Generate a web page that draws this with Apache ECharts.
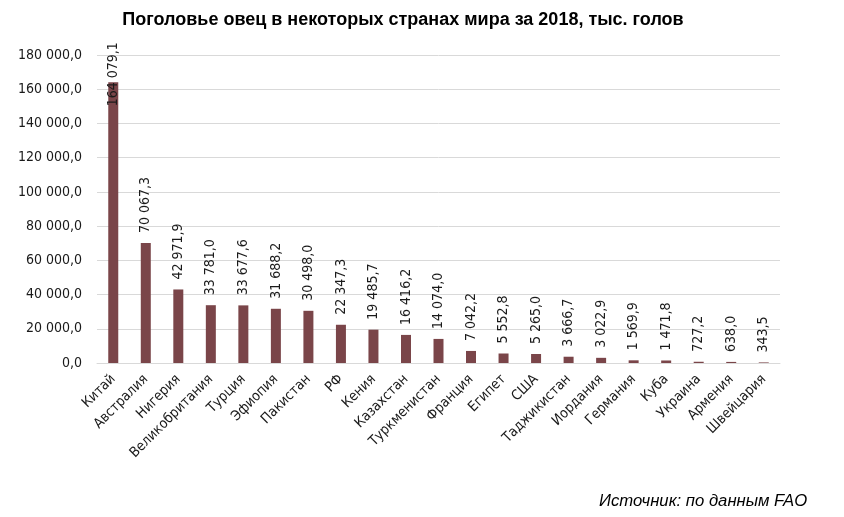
<!DOCTYPE html>
<html>
<head>
<meta charset="utf-8">
<script src="https://cdn.jsdelivr.net/npm/echarts@6/dist/echarts.min.js"></script>
<style>html,body{margin:0;padding:0;background:#fff}#c{width:844px;height:517px}</style>
</head>
<body>
<div id="c"></div>
<script>
const titleText = 'Поголовье овец в некоторых странах мира за 2018, тыс. голов';
const sourceText = 'Источник: по данным FAO';
const countries = ['Китай','Австралия','Нигерия','Великобритания','Турция','Эфиопия','Пакистан','РФ','Кения','Казахстан','Туркменистан','Франция','Египет','США','Таджикистан','Иордания','Германия','Куба','Украина','Армения','Швейцария'];
const sheep = [164079.1,70067.3,42971.9,33781.0,33677.6,31688.2,30498.0,22347.3,19485.7,16416.2,14074.0,7042.2,5552.8,5265.0,3666.7,3022.9,1569.9,1471.8,727.2,638.0,343.5];

function fmt(v){
  const s = v.toFixed(1).split('.');
  return s[0].replace(/\B(?=(\d{3})+(?!\d))/g,' ') + ',' + s[1];
}
const font = 'DejaVu Sans Condensed';
const data = sheep.map((v,i)=>{
  const d = {value:v};
  if(i===0){
    d.label = {position:'insideTop', distance:24};
  }
  return d;
});
const chart = echarts.init(document.getElementById('c'));
chart.setOption({
  animation:false,
  title:[{text:titleText,left:398,textAlign:'center',top:6,textStyle:{fontFamily:'Liberation Sans',fontWeight:'bold',fontSize:18,color:'#000'}},
         {text:sourceText,left:594,top:488,textStyle:{fontFamily:'Liberation Sans',fontStyle:'italic',fontWeight:'normal',fontSize:16.7,color:'#000'}}],
  grid:{left:97,right:64,top:55,bottom:154,containLabel:false},
  xAxis:{type:'category',data:countries,
    axisLine:{lineStyle:{color:'#d9d9d9'}},axisTick:{show:false},
    axisLabel:{rotate:45,interval:0,margin:14,fontFamily:font,fontSize:14,color:'#1a1a1a'}},
  yAxis:{type:'value',min:0,max:180000,interval:20000,
    axisLine:{show:false},axisTick:{show:false},
    splitLine:{lineStyle:{color:'#d9d9d9'}},
    axisLabel:{formatter:fmt,margin:15,fontFamily:font,fontSize:14,color:'#1a1a1a'}},
  series:[{type:'bar',data:data,barWidth:10,itemStyle:{color:'#7a4549'},
    label:{show:true,position:'top',rotate:90,align:'left',verticalAlign:'middle',distance:10,
      formatter:p=>fmt(p.value),fontFamily:font,fontSize:14,color:'#1a1a1a'}}]
});
</script>
</body>
</html>
